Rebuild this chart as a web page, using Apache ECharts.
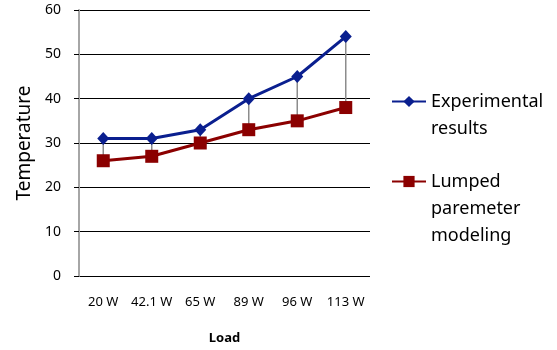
<!DOCTYPE html>
<html><head><meta charset="utf-8">
<script src="https://cdn.jsdelivr.net/npm/echarts@6/dist/echarts.min.js"></script>
<style>html,body{margin:0;padding:0;background:#fff}#c{width:557px;height:350px}</style>
</head><body><div id="c"></div>
<script>
var categories = ['20 W', '42.1 W', '65 W', '89 W', '96 W', '113 W'];
var experimental = [31, 31, 33, 40, 45, 54];
var lumped = [26, 27, 30, 33, 35, 38];
var yTicks = [0, 10, 20, 30, 40, 50, 60];

var dropData = categories.map(function (c, i) { return [i, experimental[i], lumped[i]]; });
var FONT = 'Noto Sans';
var chart = echarts.init(document.getElementById('c'));
chart.setOption({
  animation: false,
  textStyle: { fontFamily: FONT },
  grid: { left: 79, right: 187, top: 10, bottom: 74, containLabel: false, outerBoundsMode: 'none' },
  legend: [{
    data: ['Experimental results'],
    left: 391, top: 61, padding: 0,
    itemWidth: 34, itemHeight: 14,
    formatter: function () { return '\nExperimental\nresults'; },
    textStyle: { fontFamily: FONT, fontSize: 18, color: '#000', lineHeight: 27 }
  }, {
    data: ['Lumped paremeter modeling'],
    left: 391, top: 114, padding: 0,
    itemWidth: 34, itemHeight: 14,
    formatter: function () { return '\n\nLumped\nparemeter\nmodeling'; },
    textStyle: { fontFamily: FONT, fontSize: 18, color: '#000', lineHeight: 27 }
  }],
  xAxis: {
    type: 'category', data: categories, boundaryGap: true,
    name: 'Load', nameLocation: 'middle', nameGap: 56,
    nameTextStyle: { fontFamily: FONT, fontSize: 13, fontWeight: 'bold', color: '#000' },
    axisLine: { show: false },
    axisTick: { show: false },
    axisLabel: { fontFamily: FONT, fontSize: 13, color: '#000', margin: 20, interval: 0 }
  },
  yAxis: {
    type: 'value', min: 0, max: 60, interval: 10,
    name: 'Temperature', nameLocation: 'middle', nameGap: 38,
    nameTextStyle: { fontFamily: FONT, fontSize: 19, color: '#000' },
    axisLine: { show: true, lineStyle: { color: '#a6a6a6', width: 2 } },
    axisTick: { show: true, length: 5, lineStyle: { color: '#000', width: 1 } },
    axisLabel: { fontFamily: FONT, fontSize: 14, color: '#000', margin: 18,
      formatter: function (v) { return yTicks.indexOf(v) >= 0 ? String(v) : ''; } },
    splitLine: { show: true, lineStyle: { color: '#000', width: 1 } }
  },
  series: [{
    type: 'custom', name: 'drop', silent: true, z: 1,
    data: dropData,
    renderItem: function (params, api) {
      var p1 = api.coord([api.value(0), api.value(1)]);
      var p2 = api.coord([api.value(0), api.value(2)]);
      return { type: 'line', shape: { x1: p1[0], y1: p1[1], x2: p2[0], y2: p2[1] },
        style: { stroke: '#8c8c8c', lineWidth: 1.5 } };
    }
  }, {
    type: 'line', name: 'Lumped paremeter modeling', data: lumped, z: 3,
    symbol: 'rect', symbolSize: 13,
    lineStyle: { color: '#8b0000', width: 3 },
    itemStyle: { color: '#8b0000' }
  }, {
    type: 'line', name: 'Experimental results', data: experimental, z: 4,
    symbol: 'diamond', symbolSize: [12, 13],
    lineStyle: { color: '#0a1f8f', width: 3 },
    itemStyle: { color: '#0a1f8f' }
  }]
});
</script></body></html>
